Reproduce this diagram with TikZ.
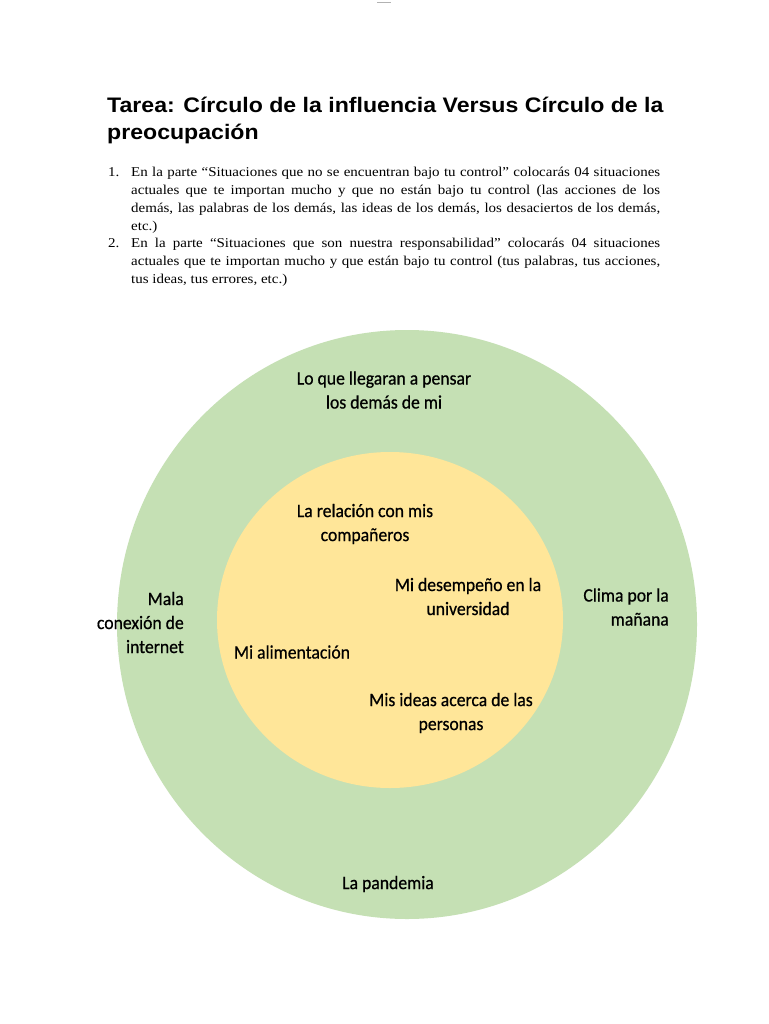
\documentclass[tikz,border=0pt]{standalone}
\usepackage{fontspec}
\setmainfont{Liberation Serif}[FakeStretch=1.11]
\newfontfamily\titlefont{Liberation Sans}[FakeStretch=1.1]
\newfontfamily\calfont{Carlito}[FakeStretch=0.93, FakeBold=0.6]
\begin{document}
\begin{tikzpicture}[x=1pt,y=-1pt,
  lbl/.style={font=\calfont\fontsize{19}{24}\selectfont, align=center, inner sep=0pt, text=black},
  lblr/.style={font=\calfont\fontsize{19}{24}\selectfont, align=right, inner sep=0pt, text=black},
  ttl/.style={font=\titlefont\bfseries\fontsize{21}{28}\selectfont, anchor=base west, inner sep=0pt},
  body/.style={font=\fontsize{13.5}{17.7}\selectfont, anchor=base west, inner sep=0pt},
]
\definecolor{outergreen}{RGB}{197,224,180}
\definecolor{inneryellow}{RGB}{255,230,153}
\useasboundingbox (0,0) rectangle (768,1024);
\fill[white] (0,0) rectangle (768,1024);
% small mark at top
\draw[gray!60, line width=0.8pt] (377,2) -- (391,2);
% title
\node[ttl] (t1) at (107,112.5) {Tarea: Círculo de la influencia Versus Círculo de la};
\node[ttl] (t2) at (107,139.5) {preocupación};
% body list
\node[body] (n1) at (108,177) {1.};
\node[body] (l1) at (131,177) {\makebox[529pt][s]{En la parte “Situaciones que no se encuentran bajo tu control” colocarás 04 situaciones}};
\node[body] (l2) at (131,194.7) {\makebox[529pt][s]{actuales que te importan mucho y que no están bajo tu control (las acciones de los}};
\node[body] (l3) at (131,212.4) {\makebox[529pt][s]{demás, las palabras de los demás, las ideas de los demás, los desaciertos de los demás,}};
\node[body] (l4) at (131,230.1) {etc.)};
\node[body] (n2) at (108,247.8) {2.};
\node[body] (l5) at (131,247.8) {\makebox[529pt][s]{En la parte “Situaciones que son nuestra responsabilidad” colocarás 04 situaciones}};
\node[body] (l6) at (131,265.5) {\makebox[529pt][s]{actuales que te importan mucho y que están bajo tu control (tus palabras, tus acciones,}};
\node[body] (l7) at (131,283.2) {tus ideas, tus errores, etc.)};
% circles
\fill[outergreen] (407,624.5) ellipse [x radius=290, y radius=294.5];
\fill[inneryellow] (390,620) ellipse [x radius=173, y radius=168];
% labels
\node[lbl] (a) at (384,390) {Lo que llegaran a pensar\\los demás de mi};
\node[lbl] (b) at (365,524) {La relación con mis\\compañeros};
\node[lbl] (c) at (468,596.5) {Mi desempeño en la\\universidad};
\node[lbl] (d) at (292,652) {Mi alimentación};
\node[lbl] (e) at (451,713) {Mis ideas acerca de las\\personas};
\node[lblr, anchor=east] (f) at (184,622.5) {Mala\\conexión de\\internet};
\node[lblr, anchor=east] (g) at (669,607) {Clima por la\\mañana};
\node[lbl] (h) at (388,884) {La pandemia};
\end{tikzpicture}
\end{document}
